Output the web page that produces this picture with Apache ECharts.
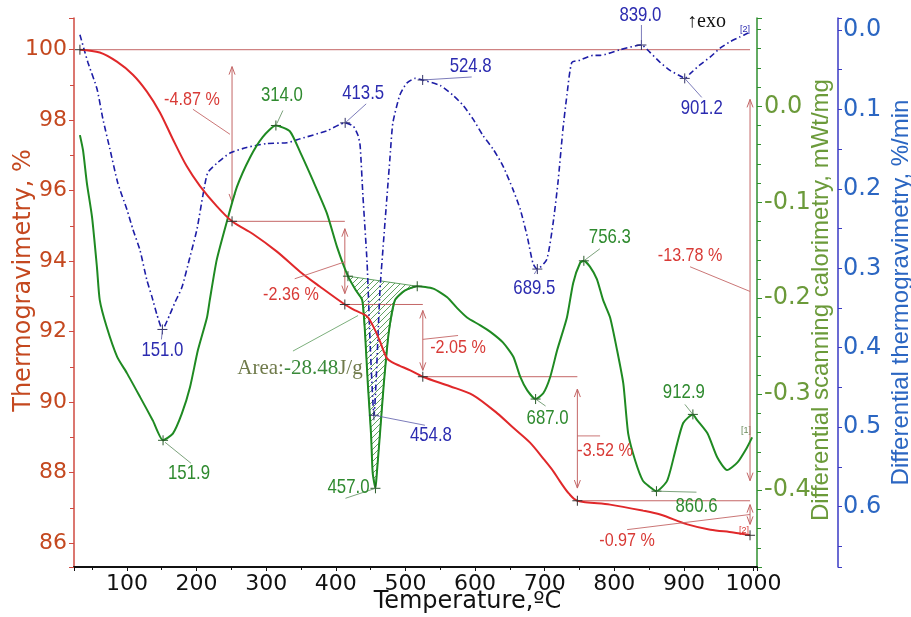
<!DOCTYPE html>
<html><head><meta charset="utf-8">
<script src="https://cdn.jsdelivr.net/npm/echarts@6/dist/echarts.min.js"></script>
<style>html,body{margin:0;padding:0;background:#fff}#c{width:911px;height:617px}</style>
</head><body><div id="c"></div>
<script>
// ---------- DATA ----------
const tgT = [32.5, 61, 85.6, 108.6, 128.7, 147.4, 166, 186, 205, 229, 251, 281, 315.5, 348.6, 377, 413, 428, 445, 455, 463.5, 473.6, 482, 492, 507, 525, 564, 597, 632, 655, 679, 700, 712, 722, 735, 747, 794, 841, 866, 905, 938, 971, 995];
const tgV = [100, 99.92, 99.66, 99.29, 98.81, 98.22, 97.46, 96.69, 96.13, 95.56, 95.13, 94.77, 94.27, 93.70, 93.28, 92.77, 92.60, 92.43, 92.10, 91.72, 91.24, 91.12, 91.03, 90.90, 90.72, 90.45, 90.20, 89.68, 89.27, 88.85, 88.35, 88.05, 87.75, 87.40, 87.20, 87.09, 86.92, 86.81, 86.53, 86.38, 86.30, 86.22];

const dscT = [32.5, 37, 42.5, 50, 57, 61, 71, 86, 100, 119, 137, 151.9, 166, 179, 190.5, 202, 215, 219, 229, 244, 258, 277, 295, 314, 334, 349, 367, 387, 402, 417.5, 429, 438, 442, 446, 450.6, 453, 457, 459, 463.5, 469, 476, 485, 499, 517, 540, 560, 574, 588.5, 607, 622, 640, 655, 665, 675, 687, 698, 708, 718, 732, 741, 751, 756.3, 765, 775, 784, 794, 804, 813, 820, 830, 841, 850, 860.6, 876, 888, 899, 912.9, 919, 934, 948, 962, 977, 991, 998];
const dscV = [-0.030, -0.046, -0.080, -0.116, -0.168, -0.202, -0.230, -0.261, -0.278, -0.303, -0.327, -0.348, -0.341, -0.320, -0.293, -0.254, -0.220, -0.202, -0.160, -0.119, -0.084, -0.053, -0.032, -0.020, -0.026, -0.048, -0.077, -0.111, -0.147, -0.177, -0.192, -0.202, -0.236, -0.289, -0.341, -0.382, -0.398, -0.382, -0.341, -0.289, -0.236, -0.202, -0.192, -0.1875, -0.190, -0.199, -0.210, -0.220, -0.228, -0.235, -0.246, -0.261, -0.282, -0.296, -0.305, -0.299, -0.282, -0.254, -0.220, -0.184, -0.163, -0.161, -0.167, -0.180, -0.202, -0.220, -0.254, -0.289, -0.341, -0.369, -0.390, -0.396, -0.401, -0.390, -0.358, -0.330, -0.321, -0.327, -0.341, -0.366, -0.379, -0.371, -0.355, -0.345];

const dtgT = [32.5, 44, 57, 65.5, 75.6, 87, 100, 108.6, 118.7, 128.7, 136, 143, 151, 161.8, 169, 179, 190.5, 200.6, 209, 216, 229, 248, 272, 301, 330, 349, 387, 413.5, 425, 432, 435, 439, 445, 449.6, 454.8, 463.5, 468, 473.6, 478, 482, 492, 502, 514, 524.8, 550, 568, 583, 597, 611.5, 626, 640, 654.6, 665, 675, 683.3, 689.5, 703, 712, 719, 726.4, 732, 739, 751, 769.5, 780, 808, 839, 851, 866, 880, 897, 901.2, 909, 923, 938, 952, 966, 980, 992];
const dtgV = [0.006, 0.041, 0.074, 0.112, 0.150, 0.193, 0.226, 0.251, 0.277, 0.315, 0.336, 0.358, 0.377, 0.358, 0.343, 0.324, 0.286, 0.251, 0.209, 0.180, 0.168, 0.155, 0.148, 0.143, 0.142, 0.137, 0.127, 0.117, 0.121, 0.133, 0.146, 0.209, 0.294, 0.400, 0.485, 0.327, 0.273, 0.209, 0.159, 0.117, 0.082, 0.067, 0.061, 0.063, 0.070, 0.082, 0.095, 0.112, 0.133, 0.150, 0.171, 0.201, 0.226, 0.260, 0.294, 0.301, 0.289, 0.244, 0.193, 0.124, 0.082, 0.041, 0.038, 0.032, 0.032, 0.025, 0.019, 0.028, 0.041, 0.051, 0.059, 0.061, 0.055, 0.044, 0.034, 0.023, 0.015, 0.009, 0.004];

// marked points
const tgMarks  = [[32.5,100],[251,95.13],[413,92.77],[525,90.72],[747,87.20],[995,86.22]];
const dscPeaks = [[151.9,-0.348],[314.0,-0.020],[417.5,-0.177],[457.0,-0.398],[517,-0.1875],[687.0,-0.305],[756.3,-0.161],[860.6,-0.401],[912.9,-0.321]];
const dtgPeaks = [[151.0,0.377],[413.5,0.117],[454.8,0.485],[524.8,0.063],[689.5,0.301],[839.0,0.019],[901.2,0.061]];

// TG mass-loss steps
const stepLevels = [[32.5,995,100],[251,413,95.13],[413,525,92.77],[525,747,90.72],[747,995,87.20]];
const stepArrows = [[251,99.52,95.68],[413,94.92,93.08],[525,92.60,90.90],[747,90.37,87.56],[995,98.59,87.77],[995,87.09,86.53]];
const stepTexts  = ['-4.87 %','-2.36 %','-2.05 %','-3.52 %','-13.78 %','-0.97 %'];
const stepTextAt = [[193.4,98.59],[335.6,93.05],[575.6,91.53],[786.8,88.62],[908.9,94.15],[818.4,86.07]];
const stepLeads  = [[194.8,98.31,248,97.60],[341,93.50,413,93.98],[525,91.78,575.6,91.89],[746.6,89.04,779.6,89.04],[908.9,93.84,995,93.14],[818.4,86.38,995,86.81]];

// DSC peak area
const areaFrom = 417.5, areaTo = 517;
const areaText = ['Area:', '-28.48', 'J/g'];
const areaTextAt = [348.6, -0.273];
const areaLead = [338.5, -0.255, 432, -0.218];

// ---------- STYLE ----------
const NUMF = '"DejaVu Sans", sans-serif';
const SANS = '"Liberation Sans",Arial,sans-serif';
const SERIF = '"Liberation Serif",serif';
const C = {
  tg:'#e0282a', tgAx:'#cf4a40', tgLab:'#c4481f',
  dsc:'#1f8a22', dscAx:'#2f8f2f', dscLab:'#6b9a3a', dscTxt:'#2f8a2f',
  dtg:'#1d1da6', dtgAx:'#3a3ac4', dtgLab:'#2b66c2', dtgTxt:'#2b2bb0',
  step:'#c46666', pct:'#d83a36'
};
// offsets of labels from their marked point (pixels)
const dscLayout = [
  {label:[26,33], lead:[[2,2],[28,23]]},
  {label:[6,-30], lead:[[1,-2],[7,-15]]},
  null,
  {label:[-27,-1], lead:[[0,0],[-30,10]]},
  null,
  {label:[12,19], lead:[[0,0],[10,7]]},
  {label:[26,-24], lead:[[0,0],[16,-12]]},
  {label:[40,15], lead:[[0,0],[40,1]]},
  {label:[-9,-22], lead:[[-8,-10],[0,0]]}
];
const dtgLayout = [
  {label:[0,21], lead:[[0,0],[-1,10]]},
  {label:[18,-30], lead:[[0,0],[21,-19]]},
  {label:[57,20], lead:[[0,0],[51,10]]},
  {label:[48,-14], lead:[[0,0],[49,-3]]},
  {label:[-3,19], lead:[[0,0],[-3,5]]},
  {label:[-1,-30], lead:[[0,0],[0,-20]]},
  {label:[17,30], lead:[[0,0],[17,19]]}
];

const zip = (a,b)=>a.map((x,i)=>[x,b[i]]);

function plusShape(p, color){
  return [
    {type:'line', shape:{x1:p[0]-5,y1:p[1],x2:p[0]+5,y2:p[1]}, style:{stroke:color,lineWidth:1}},
    {type:'line', shape:{x1:p[0],y1:p[1]-5,x2:p[0],y2:p[1]+5}, style:{stroke:color,lineWidth:1}}
  ];
}
function narrowText(x, y, text, color, size, sx){
  return {type:'text', x:x, y:y, scaleX:sx, style:{x:0, y:0, text:text, fill:color, fontSize:size, fontFamily:SANS, align:'center', verticalAlign:'middle'}};
}
function peakSeries(yIdx, pts, layout, textColor, leadColor, markColor){
  return {
    type:'custom', yAxisIndex:yIdx, silent:true, z:8, clip:false,
    encode:{x:0,y:1},
    data: pts.map((p,i)=>[p[0],p[1],i]),
    renderItem:(params, api)=>{
      const i = api.value(2);
      const p = api.coord([api.value(0), api.value(1)]);
      const L = layout[i];
      const ch = plusShape(p, markColor);
      if (L){
        ch.push({type:'line', shape:{x1:p[0]+L.lead[0][0],y1:p[1]+L.lead[0][1],x2:p[0]+L.lead[1][0],y2:p[1]+L.lead[1][1]}, style:{stroke:leadColor,lineWidth:0.8}});
        ch.push(narrowText(p[0]+L.label[0], p[1]+L.label[1], pts[i][0].toFixed(1), textColor, 21, 0.8));
      }
      return {type:'group', children:ch};
    }
  };
}
function hatch(){
  const c=document.createElement('canvas'); c.width=6; c.height=6;
  const g=c.getContext('2d'); g.strokeStyle='#3a8a3a'; g.lineWidth=0.8;
  g.beginPath(); g.moveTo(0,6); g.lineTo(6,0); g.moveTo(-1,1); g.lineTo(1,-1); g.moveTo(5,7); g.lineTo(7,5); g.stroke();
  return c;
}
const hatchImg = hatch();

const option = {
  animation:false,
  backgroundColor:'#fff',
  grid:{left:74, right:154, top:18, bottom:50, containLabel:false, outerBoundsMode:'none'},
  xAxis:{
    type:'value', min:24, max:1005, splitNumber:10,
    axisLine:{show:true, onZero:false, lineStyle:{color:'#111', width:2}},
    axisTick:{show:true, length:4, lineStyle:{color:'#111'}},
    minorTick:{show:true, splitNumber:2, length:3, lineStyle:{color:'#111'}},
    axisLabel:{color:'#111', fontFamily:NUMF, fontSize:22, margin:6, showMinLabel:false, showMaxLabel:false, formatter:v=>String(v)},
    splitLine:{show:false},
    name:'Temperature,ºC', nameLocation:'middle', nameGap:23, nameMoveOverlap:false,
    nameTextStyle:{color:'#111', fontFamily:NUMF, fontSize:24, padding:[0,0,0,104]}
  },
  yAxis:[
    { type:'value', position:'left', min:85.32, max:100.9, splitNumber:8,
      axisLine:{show:true, onZero:false, lineStyle:{color:C.tgAx, width:1.5}},
      axisTick:{show:true, length:5, lineStyle:{color:C.tgAx}},
      minorTick:{show:true, splitNumber:2, length:4, lineStyle:{color:C.tgAx}},
      axisLabel:{color:C.tgLab, fontFamily:NUMF, fontSize:22, margin:7, showMinLabel:false, showMaxLabel:false},
      splitLine:{show:false},
      name:'Thermogravimetry, %', nameLocation:'middle', nameRotate:90, nameGap:38, nameMoveOverlap:false,
      nameTextStyle:{color:C.tgLab, fontFamily:NUMF, fontSize:24, padding:[0,0,0,24]}
    },
    { type:'value', position:'right', offset:0, min:-0.48, max:0.092, splitNumber:5,
      axisLine:{show:true, onZero:false, lineStyle:{color:C.dscAx, width:1.5}},
      axisTick:{show:true, length:5, lineStyle:{color:C.dscAx}},
      minorTick:{show:true, splitNumber:5, length:4, lineStyle:{color:C.dscAx}},
      axisLabel:{color:C.dscLab, fontFamily:NUMF, fontSize:24, margin:7, showMinLabel:false, showMaxLabel:false,
        formatter:v=>(Math.abs(v)<1e-9?0:v).toFixed(1)},
      splitLine:{show:false},
      name:'Differential scanning calorimetry, mWt/mg', nameLocation:'middle', nameRotate:90, nameGap:52, nameMoveOverlap:false,
      nameTextStyle:{color:C.dscLab, fontFamily:SANS, fontSize:24, padding:[0,15,0,0]}
    },
    { type:'value', position:'right', offset:81, inverse:true, min:-0.015, max:0.676, splitNumber:7,
      axisLine:{show:true, onZero:false, lineStyle:{color:C.dtgAx, width:1.5}},
      axisTick:{show:true, length:4, lineStyle:{color:C.dtgAx}},
      minorTick:{show:true, splitNumber:2, length:4, lineStyle:{color:C.dtgAx}},
      axisLabel:{color:C.dtgLab, fontFamily:NUMF, fontSize:24, margin:5, showMinLabel:false, showMaxLabel:false,
        formatter:v=>(Math.abs(v)<1e-9?0:v).toFixed(1)},
      splitLine:{show:false},
      name:'Differential thermogravimetry, %/min', nameLocation:'middle', nameRotate:90, nameGap:51, nameMoveOverlap:false,
      nameTextStyle:{color:C.dtgLab, fontFamily:SANS, fontSize:24}
    }
  ],
  graphic:[
    {type:'text', left:687, top:12, style:{text:'↑exo', fill:'#111', fontSize:20, fontFamily:SERIF}},
    {type:'text', left:740, top:25, style:{text:'[2]', fill:C.dtgTxt, fontSize:9, fontFamily:SANS}},
    {type:'text', left:741, top:426, style:{text:'[1]', fill:'#6a8a5a', fontSize:9, fontFamily:SANS}},
    {type:'text', left:739, top:526, style:{text:'[2]', fill:C.pct, fontSize:9, fontFamily:SANS}}
  ],
  series:[
    // hatched DSC peak area
    { type:'custom', yAxisIndex:1, silent:true, z:1, clip:false, encode:{x:0,y:1},
      data:[[areaFrom, -0.18]],
      renderItem:(params, api)=>{
        const pts = [];
        dscT.forEach((t,i)=>{ if (t>=areaFrom && t<=areaTo) pts.push(api.coord([t, dscV[i]])); });
        const a = api.coord([areaLead[0], areaLead[1]]), b = api.coord([areaLead[2], areaLead[3]]);
        const tp = api.coord(areaTextAt);
        return {type:'group', children:[
          {type:'polygon', shape:{points:pts}, style:{fill:{image:hatchImg, repeat:'repeat'}, stroke:'#3a8a3a', lineWidth:0.8}},
          {type:'line', shape:{x1:a[0],y1:a[1],x2:b[0],y2:b[1]}, style:{stroke:'#5a9a5a', lineWidth:0.8}},
          {type:'text', x:tp[0], y:tp[1], style:{x:0, y:0, text:'{a|'+areaText[0]+'}{b|'+areaText[1]+'}{a|'+areaText[2]+'}', align:'center', verticalAlign:'middle',
            rich:{a:{fill:'#6f7a4a', fontSize:21, fontFamily:SERIF}, b:{fill:'#3a8a3a', fontSize:21, fontFamily:SERIF}}}}
        ]};
      }
    },
    // step levels
    { type:'custom', yAxisIndex:0, silent:true, z:2, clip:false, encode:{x:[0,1],y:2},
      data: stepLevels,
      renderItem:(params, api)=>{
        const a = api.coord([api.value(0), api.value(2)]), b = api.coord([api.value(1), api.value(2)]);
        return {type:'line', shape:{x1:a[0],y1:a[1],x2:b[0],y2:b[1]}, style:{stroke:C.step, lineWidth:1}};
      }
    },
    // step arrows
    { type:'custom', yAxisIndex:0, silent:true, z:2, clip:false, encode:{x:0,y:[1,2]},
      data: stepArrows,
      renderItem:(params, api)=>{
        const a = api.coord([api.value(0), api.value(1)]), b = api.coord([api.value(0), api.value(2)]);
        return {type:'group', children:[
          {type:'line', shape:{x1:a[0],y1:a[1],x2:b[0],y2:b[1]}, style:{stroke:C.step, lineWidth:1}},
          {type:'polyline', shape:{points:[[a[0]-3,a[1]+8],[a[0],a[1]],[a[0]+3,a[1]+8]]}, style:{stroke:C.step, lineWidth:1, fill:null}},
          {type:'polyline', shape:{points:[[b[0]-3,b[1]-8],[b[0],b[1]],[b[0]+3,b[1]-8]]}, style:{stroke:C.step, lineWidth:1, fill:null}}
        ]};
      }
    },
    // step labels + leaders
    { type:'custom', yAxisIndex:0, silent:true, z:9, clip:false, encode:{x:0,y:1},
      data: stepTextAt.map((p,i)=>[p[0],p[1],i]),
      renderItem:(params, api)=>{
        const i = api.value(2);
        const p = api.coord([api.value(0), api.value(1)]);
        const L = stepLeads[i];
        const a = api.coord([L[0],L[1]]), b = api.coord([L[2],L[3]]);
        return {type:'group', children:[
          {type:'line', shape:{x1:a[0],y1:a[1],x2:b[0],y2:b[1]}, style:{stroke:C.step, lineWidth:0.9}},
          narrowText(p[0], p[1], stepTexts[i], C.pct, 19, 0.85)
        ]};
      }
    },
    { type:'line', name:'TG', yAxisIndex:0, data:zip(tgT,tgV), showSymbol:false, smooth:0.3, z:5,
      lineStyle:{color:C.tg, width:2}, itemStyle:{color:C.tg} },
    { type:'line', name:'DSC', yAxisIndex:1, data:zip(dscT,dscV), showSymbol:false, smooth:0.2, z:4,
      lineStyle:{color:C.dsc, width:2}, itemStyle:{color:C.dsc} },
    { type:'line', name:'DTG', yAxisIndex:2, data:zip(dtgT,dtgV), showSymbol:false, smooth:0.2, z:3,
      lineStyle:{color:C.dtg, width:1.6, type:[6,3,1.5,3]}, itemStyle:{color:C.dtg} },
    // TG marks
    { type:'custom', yAxisIndex:0, silent:true, z:8, clip:false, encode:{x:0,y:1},
      data: tgMarks,
      renderItem:(params, api)=>({type:'group', children:plusShape(api.coord([api.value(0),api.value(1)]), '#333')})
    },
    peakSeries(1, dscPeaks, dscLayout, C.dscTxt, '#5a8a5a', '#2a5a2a'),
    peakSeries(2, dtgPeaks, dtgLayout, C.dtgTxt, '#5a5aa8', '#333366')
  ]
};
const chart = echarts.init(document.getElementById('c'));
chart.setOption(option);
</script></body></html>
